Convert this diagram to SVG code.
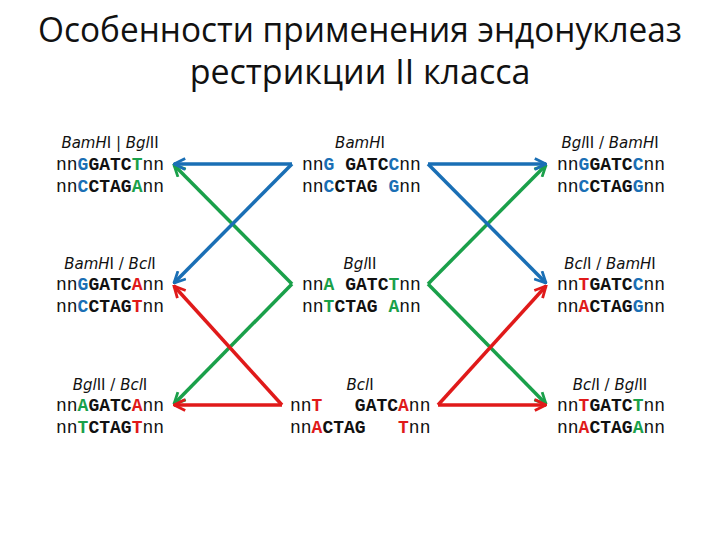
<svg xmlns="http://www.w3.org/2000/svg" width="720" height="540" viewBox="0 0 720 540">
<defs>
<style>
.t{font-family:"Open Sans","DejaVu Sans",sans-serif;font-size:34px;fill:#111;text-anchor:middle}
.l{font-family:"DejaVu Sans",sans-serif;font-size:15px;fill:#111;text-anchor:middle}
.i{font-style:italic}
.s{font-family:"Liberation Mono","Courier New",monospace;font-size:18px;fill:#111;white-space:pre}
.b{font-weight:bold}
.B{fill:#1a6fb5;font-weight:bold}
.G{fill:#1aa04a;font-weight:bold}
.R{fill:#e01a1a;font-weight:bold}
.cb{stroke:#1a6fb5}.cg{stroke:#1aa04a}.cr{stroke:#e01a1a}
line{stroke-width:3.5;fill:none}
</style>
<marker id="mb" viewBox="0 0 10 10" refX="9" refY="5" markerWidth="4" markerHeight="4" orient="auto"><path d="M1,1 L9,5 L1,9" fill="none" stroke="#1a6fb5" stroke-width="2"/></marker>
<marker id="mg" viewBox="0 0 10 10" refX="9" refY="5" markerWidth="4" markerHeight="4" orient="auto"><path d="M1,1 L9,5 L1,9" fill="none" stroke="#1aa04a" stroke-width="2"/></marker>
<marker id="mr" viewBox="0 0 10 10" refX="9" refY="5" markerWidth="4" markerHeight="4" orient="auto"><path d="M1,1 L9,5 L1,9" fill="none" stroke="#e01a1a" stroke-width="2"/></marker>
</defs>
<rect width="720" height="540" fill="#fff"/>
<g id="title">
<text class="t" x="360" y="42" textLength="644" lengthAdjust="spacingAndGlyphs">Особенности применения эндонуклеаз</text>
<text class="t" x="360" y="84">рестрикции II класса</text>
</g>
<g id="connectors">
<line class="cg" x1="292" y1="284" x2="174" y2="165" marker-end="url(#mg)"/>
<line class="cg" x1="292" y1="284" x2="174" y2="404" marker-end="url(#mg)"/>
<line class="cg" x1="428" y1="284" x2="546" y2="165" marker-end="url(#mg)"/>
<line class="cg" x1="428" y1="284" x2="546" y2="404" marker-end="url(#mg)"/>
<line class="cb" x1="292" y1="164" x2="174" y2="164" marker-end="url(#mb)"/>
<line class="cb" x1="292" y1="164" x2="174" y2="283" marker-end="url(#mb)"/>
<line class="cb" x1="428" y1="164" x2="546" y2="164" marker-end="url(#mb)"/>
<line class="cb" x1="428" y1="164" x2="546" y2="283" marker-end="url(#mb)"/>
<line class="cr" x1="282" y1="405" x2="174" y2="405" marker-end="url(#mr)"/>
<line class="cr" x1="282" y1="405" x2="174" y2="286" marker-end="url(#mr)"/>
<line class="cr" x1="438" y1="405" x2="546" y2="405" marker-end="url(#mr)"/>
<line class="cr" x1="438" y1="405" x2="546" y2="286" marker-end="url(#mr)"/>
</g>
<g id="n1">
<text class="l" x="110" y="148"><tspan class="i">BamH</tspan>I | <tspan class="i">Bgl</tspan>II</text>
<text class="s" x="56" y="170">nn<tspan class="B">G</tspan><tspan class="b">GATC</tspan><tspan class="G">T</tspan>nn</text>
<text class="s" x="56" y="192">nn<tspan class="B">C</tspan><tspan class="b">CTAG</tspan><tspan class="G">A</tspan>nn</text>
</g>
<g id="n2">
<text class="l" x="360" y="148"><tspan class="i">BamH</tspan>I</text>
<text class="s" x="302" y="170">nn<tspan class="B">G</tspan> <tspan class="b">GATC</tspan><tspan class="B">C</tspan>nn</text>
<text class="s" x="302" y="192">nn<tspan class="B">C</tspan><tspan class="b">CTAG</tspan> <tspan class="B">G</tspan>nn</text>
</g>
<g id="n3">
<text class="l" x="610" y="148"><tspan class="i">Bgl</tspan>II / <tspan class="i">BamH</tspan>I</text>
<text class="s" x="557" y="170">nn<tspan class="B">G</tspan><tspan class="b">GATC</tspan><tspan class="B">C</tspan>nn</text>
<text class="s" x="557" y="192">nn<tspan class="B">C</tspan><tspan class="b">CTAG</tspan><tspan class="B">G</tspan>nn</text>
</g>
<g id="n4">
<text class="l" x="110" y="269"><tspan class="i">BamH</tspan>I / <tspan class="i">Bcl</tspan>I</text>
<text class="s" x="56" y="290">nn<tspan class="B">G</tspan><tspan class="b">GATC</tspan><tspan class="R">A</tspan>nn</text>
<text class="s" x="56" y="312">nn<tspan class="B">C</tspan><tspan class="b">CTAG</tspan><tspan class="R">T</tspan>nn</text>
</g>
<g id="n5">
<text class="l" x="360" y="269"><tspan class="i">Bgl</tspan>II</text>
<text class="s" x="302" y="290">nn<tspan class="G">A</tspan> <tspan class="b">GATC</tspan><tspan class="G">T</tspan>nn</text>
<text class="s" x="302" y="312">nn<tspan class="G">T</tspan><tspan class="b">CTAG</tspan> <tspan class="G">A</tspan>nn</text>
</g>
<g id="n6">
<text class="l" x="610" y="269"><tspan class="i">Bcl</tspan>I / <tspan class="i">BamH</tspan>I</text>
<text class="s" x="557" y="290">nn<tspan class="R">T</tspan><tspan class="b">GATC</tspan><tspan class="B">C</tspan>nn</text>
<text class="s" x="557" y="312">nn<tspan class="R">A</tspan><tspan class="b">CTAG</tspan><tspan class="B">G</tspan>nn</text>
</g>
<g id="n7">
<text class="l" x="110" y="390"><tspan class="i">Bgl</tspan>II / <tspan class="i">Bcl</tspan>I</text>
<text class="s" x="56" y="411">nn<tspan class="G">A</tspan><tspan class="b">GATC</tspan><tspan class="R">A</tspan>nn</text>
<text class="s" x="56" y="433">nn<tspan class="G">T</tspan><tspan class="b">CTAG</tspan><tspan class="R">T</tspan>nn</text>
</g>
<g id="n8">
<text class="l" x="360" y="390"><tspan class="i">Bcl</tspan>I</text>
<text class="s" x="290" y="411">nn<tspan class="R">T</tspan>   <tspan class="b">GATC</tspan><tspan class="R">A</tspan>nn</text>
<text class="s" x="290" y="433">nn<tspan class="R">A</tspan><tspan class="b">CTAG</tspan>   <tspan class="R">T</tspan>nn</text>
</g>
<g id="n9">
<text class="l" x="610" y="390"><tspan class="i">Bcl</tspan>I / <tspan class="i">Bgl</tspan>II</text>
<text class="s" x="557" y="411">nn<tspan class="R">T</tspan><tspan class="b">GATC</tspan><tspan class="G">T</tspan>nn</text>
<text class="s" x="557" y="433">nn<tspan class="R">A</tspan><tspan class="b">CTAG</tspan><tspan class="G">A</tspan>nn</text>
</g>
</svg>
